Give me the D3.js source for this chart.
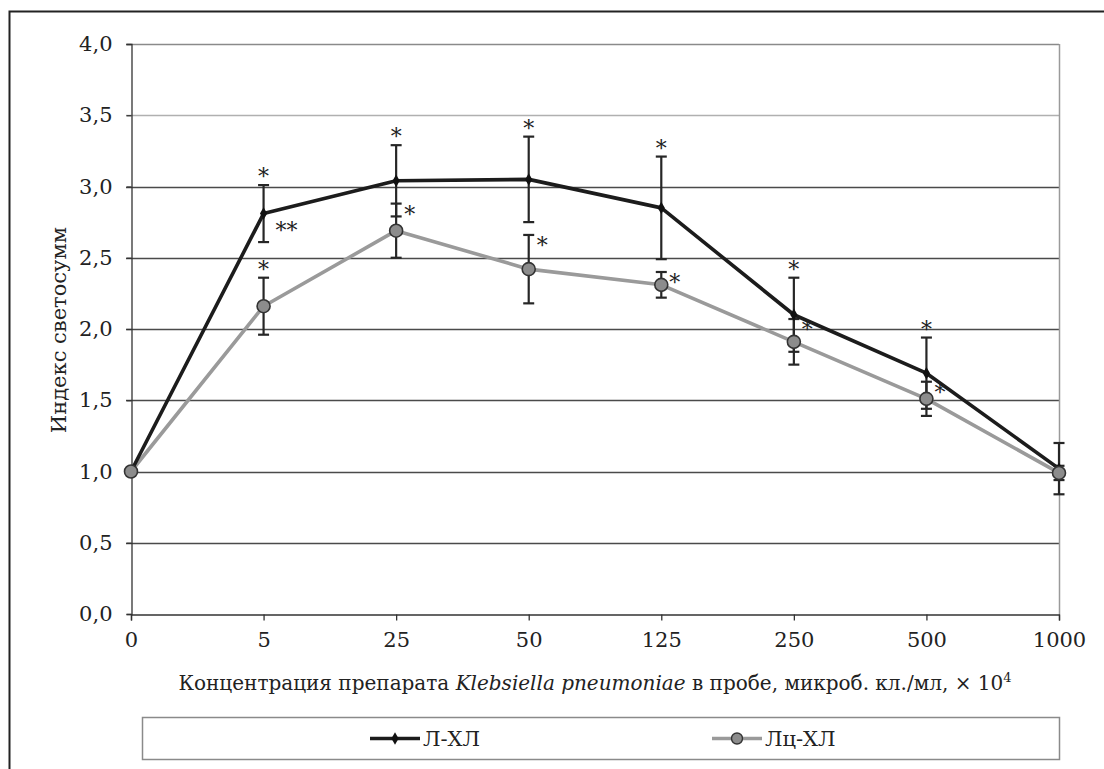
<!DOCTYPE html>
<html>
<head>
<meta charset="utf-8">
<script src="https://cdn.jsdelivr.net/npm/d3@7"></script>
<style>
  html, body { margin: 0; padding: 0; background: #fff; }
  svg { display: block; }
</style>
</head>
<body>
<svg id="chart" width="1104" height="769"></svg>
<script>
// ---- data ----
const categories = ["0", "5", "25", "50", "125", "250", "500", "1000"];
const yTicks = [0, 0.5, 1.0, 1.5, 2.0, 2.5, 3.0, 3.5, 4.0];
const seriesNames = ["Л-ХЛ", "Лц-ХЛ"];
const valuesLXL = [1.00, 2.81, 3.04, 3.05, 2.85, 2.10, 1.69, 1.02];
const errorsLXL = [0.00, 0.20, 0.25, 0.30, 0.36, 0.26, 0.25, 0.18];
const valuesLcXL = [1.00, 2.16, 2.69, 2.42, 2.31, 1.91, 1.51, 0.99];
const errorsLcXL = [0.00, 0.20, 0.19, 0.24, 0.09, 0.16, 0.12, 0.05];
// significance marks: [category index, text, placement]
const marksLXL = [[1, "*", "top"], [1, "**", "right-low"], [2, "*", "top"], [3, "*", "top"], [4, "*", "top"], [5, "*", "top"], [6, "*", "top"]];
const marksLcXL = [[1, "*", "top"], [2, "*", "right"], [3, "*", "right"], [4, "*", "right"], [5, "*", "right"], [6, "*", "right"]];

// ---- pick an installed serif font ----
function pickSerif() {
  const cands = ["Liberation Serif", "Tinos", "Times New Roman", "Times", "DejaVu Serif", "Noto Serif",
    "FreeSerif", "Nimbus Roman", "Noto Serif CJK SC", "Noto Serif CJK JP", "Source Serif Pro", "Georgia", "serif"];
  const c = document.createElement("canvas").getContext("2d");
  const probe = "Концентрация препарата Klebsiella 0123456789 mmmWWWiii";
  const bases = ["monospace", "fantasy"];
  const w = f => { c.font = "40px " + f; return c.measureText(probe).width; };
  for (const name of cands) {
    const q = name === "serif" ? "serif" : `"${name}"`;
    let ok = true;
    for (const b of bases) { if (Math.abs(w(`${q}, ${b}`) - w(b)) < 0.5) ok = false; }
    if (ok) return q;
  }
  return "serif";
}
const FONT = pickSerif() + ", serif";

// ---- layout ----
const svg = d3.select("#chart").attr("font-family", FONT);
const plot = { left: 131, right: 1059, top: 44, bottom: 614 };

const x = d3.scalePoint().domain(categories).range([plot.left, plot.right]);
const y = d3.scaleLinear().domain([0, 4]).range([plot.bottom, plot.top]);
const fmt = d => d3.format(".1f")(d).replace(".", ",");

// outer frame (only top and left edges visible)
svg.append("rect").attr("x", 9.5).attr("y", 11.5).attr("width", 1300).attr("height", 1000)
  .attr("fill", "none").attr("stroke", "#222").attr("stroke-width", 2);

// grid lines
svg.append("g").selectAll("line").data(yTicks.filter(d => d > 0)).join("line")
  .attr("x1", plot.left - 5).attr("x2", plot.right)
  .attr("y1", d => Math.round(y(d)) + 0.5).attr("y2", d => Math.round(y(d)) + 0.5)
  .attr("stroke", d => d === 3.5 ? "#b0b0b0" : (d === 4 ? "#8a8a8a" : "#4a4a4a"))
  .attr("stroke-width", 1.3);

// right plot border
svg.append("line").attr("x1", plot.right + 0.5).attr("x2", plot.right + 0.5)
  .attr("y1", plot.top).attr("y2", plot.bottom)
  .attr("stroke", "#9a9a9a").attr("stroke-width", 1.5);

// y axis
const yAxis = d3.axisLeft(y).tickValues(yTicks).tickFormat(fmt).tickSize(5).tickPadding(14);
const gy = svg.append("g").attr("transform", `translate(${plot.left + 0.5},0)`).call(yAxis)
  .attr("font-family", FONT);
gy.select(".domain").attr("stroke", "#333").attr("stroke-width", 1.3);
gy.selectAll(".tick line").attr("stroke", "#333").attr("stroke-width", 1.3);
gy.selectAll(".tick text").attr("font-size", 21).attr("fill", "#222");

// x axis
const xAxis = d3.axisBottom(x).tickSize(6).tickPadding(12);
const gx = svg.append("g").attr("transform", `translate(0,${plot.bottom + 0.5})`).call(xAxis)
  .attr("font-family", FONT);
gx.select(".domain").attr("stroke", "#333").attr("stroke-width", 1.3);
gx.selectAll(".tick line").attr("stroke", "#333").attr("stroke-width", 1.3);
gx.selectAll(".tick text").attr("font-size", 21).attr("fill", "#222");

// axis titles
svg.append("text").attr("transform", "translate(66,330) rotate(-90)")
  .attr("text-anchor", "middle").attr("font-size", 21).attr("fill", "#222")
  .text("Индекс светосумм");

const xt = svg.append("text").attr("x", 595).attr("y", 690).attr("text-anchor", "middle")
  .attr("font-size", 20).attr("fill", "#222");
xt.append("tspan").text("Концентрация препарата ");
xt.append("tspan").attr("font-style", "italic").text("Klebsiella pneumoniae");
xt.append("tspan").text(" в пробе, микроб. кл./мл, ×  10");
xt.append("tspan").attr("font-size", 13).attr("dy", -8).text("4");

// ---- series ----
const series = [
  { name: seriesNames[0], values: valuesLXL, errors: errorsLXL, marks: marksLXL,
    line: "#1c1c1c", marker: "diamond" },
  { name: seriesNames[1], values: valuesLcXL, errors: errorsLcXL, marks: marksLcXL,
    line: "#9a9a9a", marker: "circle" }
];

// error bars
series.forEach(s => {
  const g = svg.append("g").attr("stroke", "#262626").attr("stroke-width", 2.2).attr("fill", "none");
  s.values.forEach((v, i) => {
    const e = s.errors[i];
    if (!e) return;
    const cx = x(categories[i]);
    const y1 = y(v + e), y2 = y(v - e);
    g.append("line").attr("x1", cx).attr("x2", cx).attr("y1", y1).attr("y2", y2);
    g.append("line").attr("x1", cx - 5.5).attr("x2", cx + 5.5).attr("y1", y1).attr("y2", y1);
    g.append("line").attr("x1", cx - 5.5).attr("x2", cx + 5.5).attr("y1", y2).attr("y2", y2);
  });
});

const lineGen = d3.line().x((d, i) => x(categories[i])).y(d => y(d));
svg.append("path").datum(series[1].values).attr("d", lineGen)
  .attr("fill", "none").attr("stroke", series[1].line).attr("stroke-width", 3.6)
  .attr("stroke-linejoin", "round");
svg.append("path").datum(series[0].values).attr("d", lineGen)
  .attr("fill", "none").attr("stroke", series[0].line).attr("stroke-width", 3.6)
  .attr("stroke-linejoin", "round");

const diamond = d3.symbol().type(d3.symbolDiamond).size(45);
svg.append("g").selectAll("path").data(series[0].values).join("path")
  .attr("d", diamond)
  .attr("transform", (d, i) => `translate(${x(categories[i])},${y(d)})`)
  .attr("fill", "#111");
svg.append("g").selectAll("circle").data(series[1].values).join("circle")
  .attr("cx", (d, i) => x(categories[i])).attr("cy", d => y(d)).attr("r", 6.5)
  .attr("fill", "#8c8c8c").attr("stroke", "#333").attr("stroke-width", 1.6);

// significance marks
series.forEach(s => {
  s.marks.forEach(([i, txt, place]) => {
    const cx = x(categories[i]);
    const v = s.values[i], e = s.errors[i];
    let tx, ty, anchor;
    if (place === "top") { tx = cx; ty = y(v + e) - 11; anchor = "middle"; }
    else if (place === "right") { tx = cx + 8; ty = y(v + e) + 8; anchor = "start"; }
    else { tx = cx + 12; ty = y(v) + 14; anchor = "start"; }
    svg.append("text").attr("x", tx).attr("y", ty + 10).attr("text-anchor", anchor)
      .attr("font-size", 22).attr("fill", "#222").text(txt);
  });
});

// ---- legend ----
const lg = svg.append("g");
lg.append("rect").attr("x", 142.5).attr("y", 717.5).attr("width", 917).attr("height", 42)
  .attr("fill", "#fff").attr("stroke", "#8a8a8a").attr("stroke-width", 1.5);
const legendItems = [
  { s: series[0], x0: 370 },
  { s: series[1], x0: 712 }
];
legendItems.forEach(({ s, x0 }) => {
  const ly = 738.5;
  lg.append("line").attr("x1", x0).attr("x2", x0 + 50).attr("y1", ly).attr("y2", ly)
    .attr("stroke", s.line).attr("stroke-width", 3.6);
  if (s.marker === "diamond") {
    lg.append("path").attr("d", diamond).attr("transform", `translate(${x0 + 25},${ly})`).attr("fill", "#111");
  } else {
    lg.append("circle").attr("cx", x0 + 25).attr("cy", ly).attr("r", 5.5)
      .attr("fill", "#8c8c8c").attr("stroke", "#333").attr("stroke-width", 1.4);
  }
  lg.append("text").attr("x", x0 + 53).attr("y", ly + 7).attr("font-size", 21).attr("fill", "#222").text(s.name);
});
</script>
</body>
</html>
